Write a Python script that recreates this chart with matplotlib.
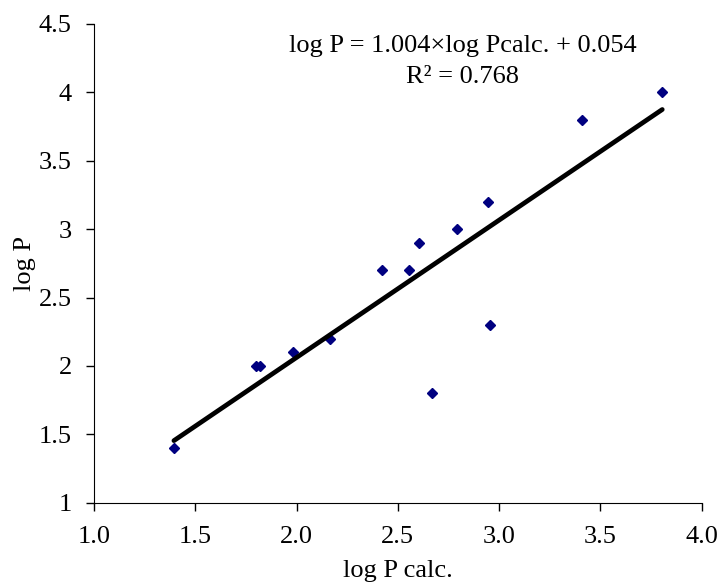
import numpy as np
import matplotlib.pyplot as plt
from matplotlib.ticker import FuncFormatter

plt.rcParams['font.family'] = 'serif'
plt.rcParams['font.serif'] = ['Liberation Serif', 'DejaVu Serif']

log_p_calc = [1.395, 1.798, 1.818, 1.985, 2.164, 2.424, 2.553, 2.603,
              2.671, 2.794, 2.947, 2.957, 3.409, 3.805]
log_p = [1.40, 2.00, 2.00, 2.10, 2.20, 2.70, 2.70, 2.90,
         1.80, 3.00, 3.20, 2.30, 3.80, 4.00]

slope = 1.004
intercept = 0.054
r2 = 0.768

x = np.array(log_p_calc)
y = np.array(log_p)

fig = plt.figure(figsize=(7.22, 5.82), dpi=100)
ax = fig.add_axes([0.130, 0.136, 0.842, 0.823])

ax.plot(x, y, linestyle='none', marker='D', markersize=5.2, color='#000080')
xf = np.array([x.min(), x.max()])
ax.plot(xf, slope * xf + intercept, color='black', linewidth=3.4, solid_capstyle='round')

ax.text(2.82, 4.34, 'log P = %.3f\u00d7log Pcalc. + %.3f' % (slope, intercept),
        ha='center', va='center', fontsize=19)
ax.text(2.82, 4.11, 'R\u00b2 = %.3f' % r2, ha='center', va='center', fontsize=19)

ax.set_xlim(1.0, 4.0)
ax.set_ylim(1.0, 4.5)
ax.set_xticks(np.arange(1.0, 4.01, 0.5))
ax.set_yticks(np.arange(1.0, 4.51, 0.5))
ax.xaxis.set_major_formatter(FuncFormatter(lambda v, p: '%.1f' % v))
ax.yaxis.set_major_formatter(FuncFormatter(lambda v, p: '%g' % v))
ax.tick_params(direction='out', length=6, width=1, labelsize=19)
ax.tick_params(axis='x', pad=11)
ax.tick_params(axis='y', pad=10)
ax.spines['top'].set_visible(False)
ax.spines['right'].set_visible(False)

ax.set_xlabel('log P calc.', fontsize=19, labelpad=8)
ax.set_ylabel('log P', fontsize=19, labelpad=2)

fig.savefig('out.png', dpi=100)
